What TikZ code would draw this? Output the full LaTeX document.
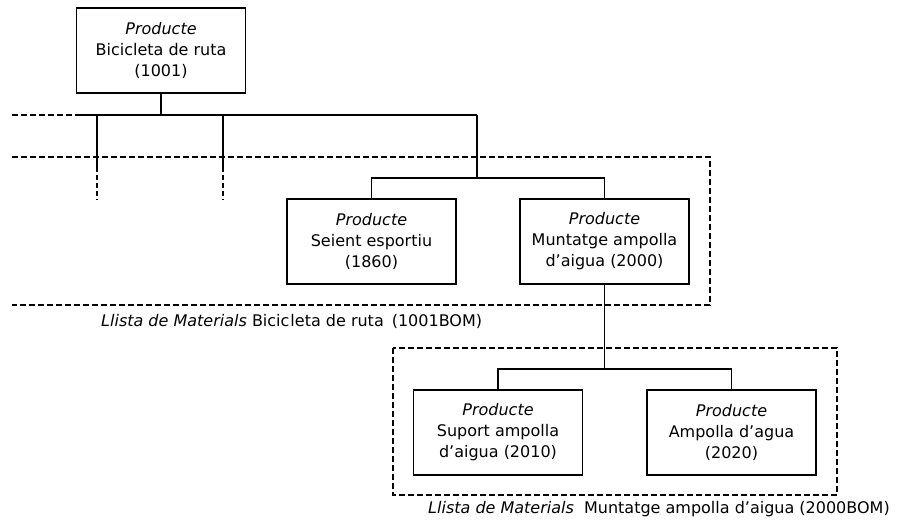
\documentclass[tikz,border=0pt]{standalone}
\usepackage{fontspec}
\setmainfont{DejaVu Sans}
\begin{document}
\begin{tikzpicture}[x=1pt,y=-1pt,
  item/.style={draw, line width=1.4pt, minimum width=169pt, minimum height=85pt,
    inner sep=0pt, align=center, font=\fontsize{16}{21}\selectfont},
  link/.style={line width=1.5pt},
  openlink/.style={line width=2.4pt, dash pattern=on 5pt off 3pt},
  bom/.style={line width=2pt, dash pattern=on 6pt off 3pt},
  caption/.style={anchor=west, inner sep=0pt, font=\fontsize{16}{21}\selectfont}]
\useasboundingbox (0,0) rectangle (897,524);

% products
\node[item] (bike)    at (161,50.5)   {\textit{Producte}\\Bicicleta de ruta\\(1001)};
\node[item] (seat)    at (371.5,241.5) {\textit{Producte}\\Seient esportiu\\(1860)};
\node[item] (bottleset) at (604.5,241.5) {\textit{Producte}\\Muntatge ampolla\\d’aigua (2000)};
\node[item] (holder)  at (498,432.5)  {\textit{Producte}\\Suport ampolla\\d’aigua (2010)};
\node[item] (bottle)  at (731.5,432.5) {\textit{Producte}\\Ampolla d’agua\\(2020)};

% bill of materials frames
\draw[bom] (12,157) -- (710,157) -- (710,305) -- (12,305);
\draw[bom] (393,348) rectangle (837,495);
\node[caption] (bom1) at (101,321) {\textit{Llista de Materials} Bicic\kern1pt leta de ruta\kern8pt(1001BOM)};
\node[caption] (bom2) at (428,509) {\textit{Llista de Materials}\ \ Muntatge ampolla d’aigua (2000BOM)};

% bicycle level
\coordinate (busL) at (12,115);
\coordinate (busA) at (77,115);
\coordinate (busB) at (97,115);
\coordinate (busC) at (223,115);
\coordinate (busD) at (477,115);
\coordinate (b1) at (97,167);
\coordinate (b1e) at (97,200);
\coordinate (c1) at (223,167);
\coordinate (c1e) at (223,200);
\draw[link] (bike.south) -- (bike.south |- busD);
\draw[link] (busA) -- (busD);
\draw[bom] (busL) -- (busA);
\draw[link] (busB) -- (b1);
\draw[link] (busC) -- (c1);
\draw[openlink] ([yshift=8pt]b1) -- (b1e);
\draw[openlink] ([yshift=8pt]c1) -- (c1e);

% assembly level
\coordinate (mid) at (477,178);
\draw[link] (busD) -- (mid);
\draw[link] (seat.north) -- (seat.north |- mid) -- (bottleset.north |- mid) -- (bottleset.north);

% water bottle assembly level
\coordinate (low) at (604,369);
\draw[link] (bottleset.south) -- (bottleset.south |- low);
\draw[link] (holder.north) -- (holder.north |- low) -- (bottle.north |- low) -- (bottle.north);
\end{tikzpicture}
\end{document}
